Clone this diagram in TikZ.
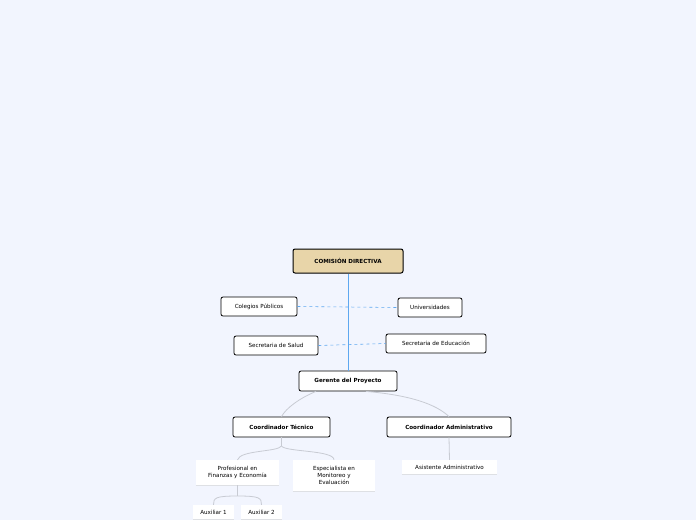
\documentclass[tikz,border=0pt]{standalone}
\usepackage{fontspec}
\setmainfont{DejaVu Sans}
\definecolor{bg}{HTML}{F2F5FE}
\definecolor{gold}{HTML}{E8D5A9}
\definecolor{blueL}{HTML}{5EA8F0}
\definecolor{grayL}{HTML}{C8CBD3}
\begin{document}
\begin{tikzpicture}[x=1pt,y=-1pt,
  box/.style={draw=black,fill=white,rounded corners=2pt,line width=0.8pt,font=\fontsize{5.6}{7}\selectfont,inner sep=0pt,align=center},
  bbox/.style={box,font=\fontsize{5.6}{7}\selectfont\bfseries},
  leaf/.style={fill=white,inner sep=0pt,align=center,font=\fontsize{5.6}{7}\selectfont},
  gline/.style={draw=grayL,line width=0.8pt},
  dline/.style={draw=blueL,dashed,line width=0.6pt}]
\useasboundingbox[fill=bg] (0,0) rectangle (696,520);
\node[bbox,fill=gold,line width=1pt,minimum width=110pt,minimum height=24pt] (com) at (348,261) {COMISIÓN DIRECTIVA};
\node[box,minimum width=76pt,minimum height=19pt] (col) at (259,306.5) {Colegios Públicos};
\node[box,minimum width=64pt,minimum height=19pt] (uni) at (430,307.5) {Universidades};
\node[box,minimum width=84pt,minimum height=19pt] (sal) at (276,345.5) {Secretaria de Salud};
\node[box,minimum width=100pt,minimum height=19pt] (edu) at (436,343.5) {Secretaria de Educación};
\node[bbox,minimum width=98pt,minimum height=20pt] (ger) at (348,381) {Gerente del Proyecto};
\node[bbox,minimum width=97pt,minimum height=20pt] (ct) at (281.5,427) {Coordinador Técnico};
\node[bbox,minimum width=124pt,minimum height=20pt] (ca) at (449,427) {Coordinador Administrativo};
\node[leaf,minimum width=83pt,minimum height=25pt] (pro) at (237.5,472.5) {Profesional en\\Finanzas y Economía};
\node[leaf,minimum width=82pt,minimum height=31pt] (esp) at (334,475.5) {Especialista en\\Monitoreo y\\Evaluación};
\node[leaf,minimum width=95pt,minimum height=14pt] (asi) at (449.5,467) {Asistente Administrativo};
\node[leaf,minimum width=41pt,minimum height=14pt] (a1) at (213.5,512) {Auxiliar 1};
\node[leaf,minimum width=41pt,minimum height=14pt] (a2) at (261.5,512) {Auxiliar 2};
\foreach \n in {pro,esp,asi,a1,a2}{\draw[grayL!60,line width=0.6pt] (\n.south west)--(\n.south east);}
\draw[blueL,line width=0.8pt] (com.south) -- (ger.north);
\draw[dline] (col.east) -- (uni.west);
\draw[dline] (sal.east) -- (edu.west);
\draw[gline] ([xshift=-32pt]ger.south) .. controls (300,398) and (286,408) .. (ct.north);
\draw[gline] ([xshift=18pt]ger.south) .. controls (420,396) and (440,408) .. (ca.north);
\draw[gline] (ca.south) -- (asi.north);
\coordinate (tj) at (281.5,446);
\draw[gline] (ct.south) -- (tj);
\draw[gline] (tj) .. controls (278,452) and (240,450) .. (pro.north);
\draw[gline] (tj) .. controls (285,452) and (334,450) .. (esp.north);
\coordinate (pj) at (237.5,496);
\draw[gline] (pro.south) -- (pj);
\draw[gline] (pj) .. controls (215,496) and (213.5,498) .. (a1.north);
\draw[gline] (pj) .. controls (260,496) and (261.5,498) .. (a2.north);
\end{tikzpicture}
\end{document}
